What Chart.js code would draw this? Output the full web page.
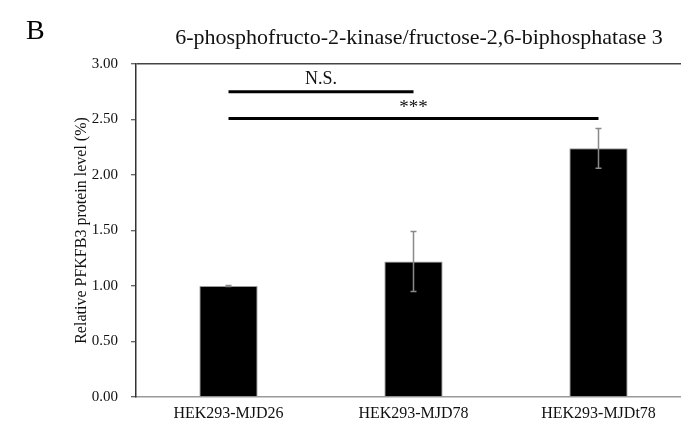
<!DOCTYPE html>
<html lang="en">
<head>
    <meta charset="UTF-8">
    <title>PFKFB3 protein level</title>
    <script src="https://cdn.jsdelivr.net/npm/chart.js"></script>
    <style>
        body {
            margin: 0;
            background: #fff;
            overflow: hidden;
        }
        #chart {
            display: block;
        }
    </style>
</head>
<body>
    <canvas id="chart" width="700" height="431"></canvas>

    <script>
        // data
        const cellLines = ["HEK293-MJD26", "HEK293-MJD78", "HEK293-MJDt78"];
        const meanLevel = [1.00, 1.22, 2.24];
        const errLevel = [0.005, 0.27, 0.18];
        const yTicks = [0, 0.5, 1.0, 1.5, 2.0, 2.5, 3.0];

        // significance brackets: [from, to], height, label
        const sigPairs = [[0, 1], [0, 2]];
        const sigHeights = [2.75, 2.51];
        const sigLabels = ["N.S.", "***"];

        const serif = "'Liberation Serif', 'Times New Roman', serif";

        // header text: panel letter + title
        const headerPlugin = {
            id: "header",
            afterDraw(chart) {
                const c = chart.ctx;
                c.save();
                c.fillStyle = "#000";
                c.textBaseline = "middle";
                c.textAlign = "left";
                c.font = "28px " + serif;
                c.fillText("B", 26, 32);
                c.textAlign = "center";
                c.font = "22px " + serif;
                c.fillStyle = "#111";
                c.fillText("6-phosphofructo-2-kinase/fructose-2,6-biphosphatase 3", 419, 38);
                c.restore();
            }
        };

        // error bars drawn from the scales
        const errorBarPlugin = {
            id: "errorBars",
            afterDatasetsDraw(chart) {
                const c = chart.ctx;
                const xs = chart.scales.x, ys = chart.scales.y;
                c.save();
                c.strokeStyle = "#8a8a8a";
                c.lineWidth = 1.5;
                meanLevel.forEach((v, i) => {
                    const x = xs.getPixelForValue(i);
                    const top = ys.getPixelForValue(v + errLevel[i]);
                    const bot = ys.getPixelForValue(v - errLevel[i]);
                    c.beginPath();
                    c.moveTo(x, top); c.lineTo(x, bot);
                    c.moveTo(x - 3, top); c.lineTo(x + 3, top);
                    c.moveTo(x - 3, bot); c.lineTo(x + 3, bot);
                    c.stroke();
                });
                c.restore();
            }
        };

        // significance lines above the bars
        const sigPlugin = {
            id: "sig",
            afterDatasetsDraw(chart) {
                const c = chart.ctx;
                const xs = chart.scales.x, ys = chart.scales.y;
                c.save();
                c.strokeStyle = "#000";
                c.fillStyle = "#111";
                c.lineWidth = 3;
                c.textAlign = "center";
                c.textBaseline = "alphabetic";
                sigPairs.forEach((p, i) => {
                    const x1 = xs.getPixelForValue(p[0]);
                    const x2 = xs.getPixelForValue(p[1]);
                    const y = ys.getPixelForValue(sigHeights[i]);
                    c.beginPath();
                    c.moveTo(x1, y); c.lineTo(x2, y);
                    c.stroke();
                    if (sigLabels[i] === "***") {
                        c.font = "19px " + serif;
                        c.fillText(sigLabels[i], (x1 + x2) / 2, y - 5);
                    } else {
                        c.font = "18px " + serif;
                        c.fillText(sigLabels[i], (x1 + x2) / 2, y - 8);
                    }
                });
                c.restore();
            }
        };

        const ctx = document.getElementById("chart").getContext("2d");
        new Chart(ctx, {
            type: "bar",
            data: {
                labels: cellLines,
                datasets: [{
                    data: meanLevel,
                    backgroundColor: "#000",
                    borderColor: "#9a9a9a",
                    borderWidth: 1,
                    categoryPercentage: 1.0,
                    barPercentage: 0.315
                }]
            },
            options: {
                responsive: false,
                devicePixelRatio: 1,
                animation: false,
                layout: { padding: { left: 0, right: 9, top: 64, bottom: 0 } },
                plugins: {
                    legend: { display: false },
                    tooltip: { enabled: false }
                },
                scales: {
                    x: {
                        grid: { display: true, color: "rgba(0,0,0,0)", drawTicks: false },
                        border: { display: true, color: "#9a9a9a", width: 1.5 },
                        ticks: {
                            color: "#111",
                            font: { family: serif, size: 16 },
                            padding: 7,
                            maxRotation: 0
                        },
                        afterFit(scale) { scale.height = 34; }
                    },
                    y: {
                        min: 0,
                        max: 3,
                        afterBuildTicks(scale) {
                            scale.ticks = yTicks.map(v => ({ value: v }));
                        },
                        grid: {
                            color: c => c.tick && c.tick.value === 3 ? "#444" : "rgba(0,0,0,0)",
                            lineWidth: 1.5,
                            drawTicks: true,
                            tickLength: 5,
                            tickColor: "#333",
                            tickWidth: 1
                        },
                        border: { display: true, color: "#333", width: 1.5 },
                        ticks: {
                            color: "#111",
                            font: { family: serif, size: 15 },
                            padding: 13,
                            callback: v => v.toFixed(2)
                        },
                        title: {
                            display: true,
                            text: "Relative PFKFB3 protein level (%)",
                            color: "#111",
                            font: { family: serif, size: 16 },
                            padding: { top: 72, bottom: 0 }
                        },
                        afterFit(scale) { scale.width = 136; }
                    }
                }
            },
            plugins: [headerPlugin, errorBarPlugin, sigPlugin]
        });
    </script>
</body>
</html>
